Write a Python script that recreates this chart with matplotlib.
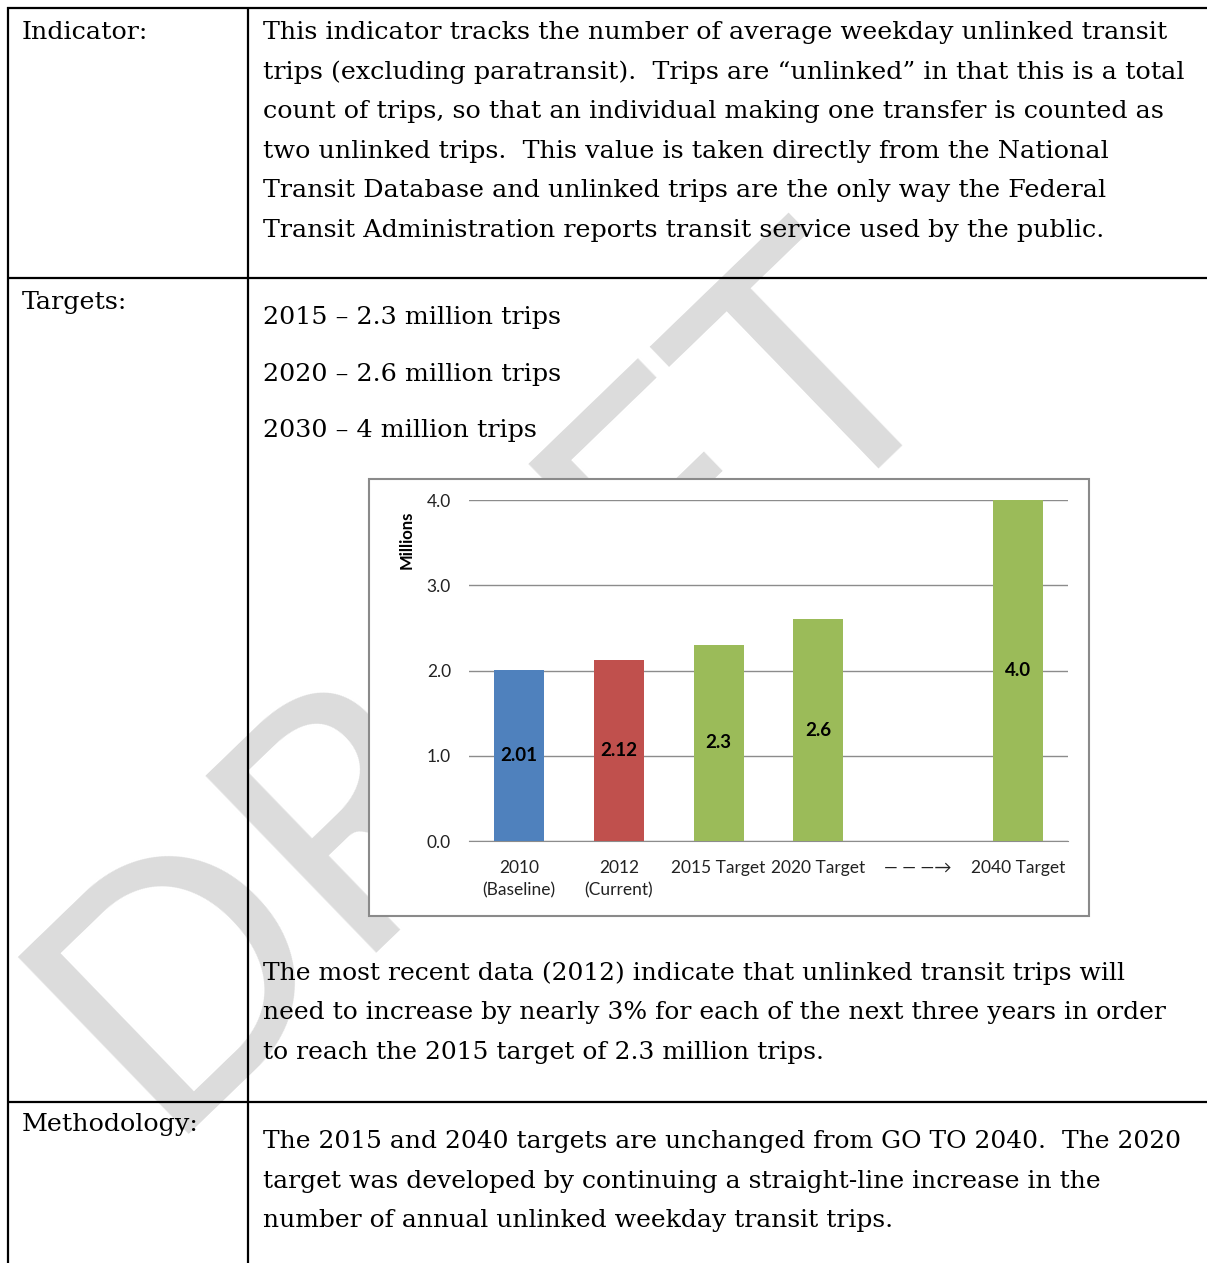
import matplotlib
matplotlib.use('Agg')
import matplotlib.pyplot as plt
import numpy as np
from matplotlib.patches import Rectangle

plt.rcParams['font.family'] = ['Lato', 'DejaVu Sans']

# chart data
categories = ['2010\n(Baseline)', '2012\n(Current)', '2015 Target', '2020 Target',
              '\u2014 \u2014 \u2014\u2192', '2040 Target']
values = [2.01, 2.12, 2.3, 2.6, np.nan, 4.0]
value_labels = ['2.01', '2.12', '2.3', '2.6', '', '4.0']
bar_colors = ['#4F81BD', '#C0504D', '#9BBB59', '#9BBB59', '#9BBB59', '#9BBB59']
yticks = [0.0, 1.0, 2.0, 3.0, 4.0]

# table text
row_heads = ['Indicator:', 'Targets:', 'Methodology:']
indicator_lines = [
    'This indicator tracks the number of average weekday unlinked transit',
    'trips (excluding paratransit).  Trips are \u201cunlinked\u201d in that this is a total',
    'count of trips, so that an individual making one transfer is counted as',
    'two unlinked trips.  This value is taken directly from the National',
    'Transit Database and unlinked trips are the only way the Federal',
    'Transit Administration reports transit service used by the public.',
]
target_lines = [
    '2015 \u2013 2.3 million trips',
    '2020 \u2013 2.6 million trips',
    '2030 \u2013 4 million trips',
]
result_lines = [
    'The most recent data (2012) indicate that unlinked transit trips will',
    'need to increase by nearly 3% for each of the next three years in order',
    'to reach the 2015 target of 2.3 million trips.',
]
method_lines = [
    'The 2015 and 2040 targets are unchanged from GO TO 2040.  The 2020',
    'target was developed by continuing a straight-line increase in the',
    'number of annual unlinked weekday transit trips.',
]

W, H = 1207, 1263
fig = plt.figure(figsize=(W / 100, H / 100), dpi=100)
page = fig.add_axes([0, 0, 1, 1])
page.set_xlim(0, W)
page.set_ylim(H, 0)
page.axis('off')

# watermark
page.text(556, 748, 'DRAFT', fontsize=248, family='Lato', color='#dcdcdc',
          rotation=44, rotation_mode='anchor', ha='center', va='baseline', zorder=1)

# table rules
page.hlines([8, 278, 1102], 7, W, color='black', lw=1.6, zorder=4)
page.vlines([8, 248], 7, H, color='black', lw=1.6, zorder=4)

serif = 'DejaVu Serif'
fs = 18.3
page.text(22, 39, row_heads[0], family=serif, fontsize=fs, va='baseline', zorder=3)
page.text(22, 309, row_heads[1], family=serif, fontsize=fs, va='baseline', zorder=3)
page.text(22, 1131, row_heads[2], family=serif, fontsize=fs, va='baseline', zorder=3)
for i, line in enumerate(indicator_lines):
    page.text(263, 39 + i * 39.6, line, family=serif, fontsize=fs, va='baseline', zorder=3)
for i, line in enumerate(target_lines):
    page.text(263, 324 + i * 56.5, line, family=serif, fontsize=fs, va='baseline', zorder=3)
for i, line in enumerate(result_lines):
    page.text(263, 980 + i * 39.3, line, family=serif, fontsize=18, va='baseline', zorder=3)
for i, line in enumerate(method_lines):
    page.text(263, 1148 + i * 39.6, line, family=serif, fontsize=18, va='baseline', zorder=3)

# chart frame
page.add_patch(Rectangle((369, 479), 720, 437, facecolor='white',
                         edgecolor='#8a8a8a', lw=1.5, zorder=2))
page.text(407, 540, 'Millions', rotation=90, fontsize=12, fontweight='bold',
          ha='center', va='center', zorder=3)

ax = fig.add_axes([469 / W, 1 - 841 / H, 599 / W, 341 / H])
ax.patch.set_alpha(0)
x = np.arange(len(categories))
bars = ax.bar(x, values, width=0.5, color=bar_colors, zorder=3)
ax.bar_label(bars, labels=value_labels, label_type='center',
             fontsize=13.5, fontweight='bold', color='black')
ax.set_xlim(-0.5, len(categories) - 0.5)
ax.set_ylim(0, 4.0)
ax.set_yticks(yticks)
ax.set_yticklabels([f'{v:.1f}' for v in yticks])
ax.set_xticks(x)
ax.set_xticklabels(categories, linespacing=1.45)
ax.yaxis.grid(True, color='#8c8c8c', lw=1)
ax.set_axisbelow(True)
for s in ['left', 'right', 'top']:
    ax.spines[s].set_visible(False)
ax.spines['bottom'].set_color('#8c8c8c')
ax.tick_params(axis='y', length=0, pad=13, labelsize=12.5, labelcolor='#222222')
ax.tick_params(axis='x', length=0, pad=14, labelsize=12.5, labelcolor='#222222')

fig.savefig('out.png', dpi=100)
